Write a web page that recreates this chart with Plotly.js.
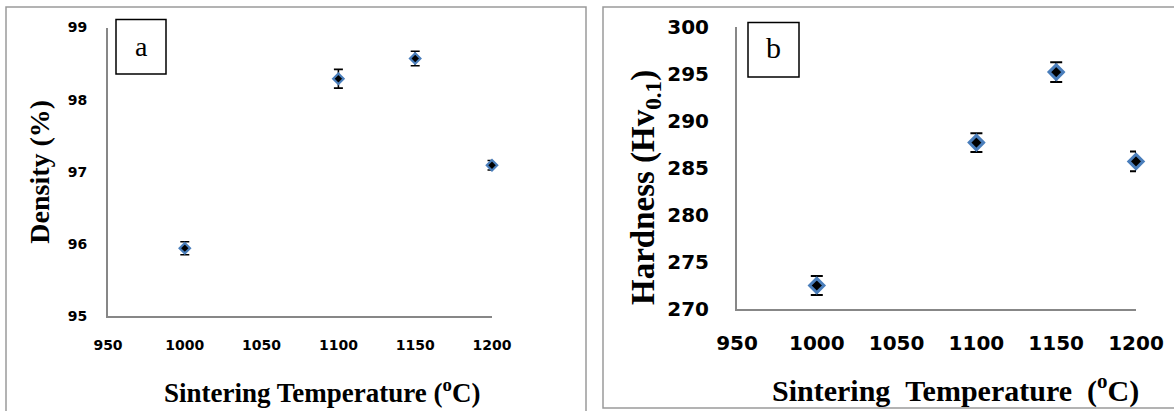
<!DOCTYPE html>
<html>
<head>
<meta charset="utf-8">
<script src="https://cdn.plot.ly/plotly-3.0.1.min.js"></script>
<style>html,body{margin:0;padding:0;background:#fff}#chart{width:1174px;height:411px}</style>
</head>
<body>
<div id="chart"></div>
<script>
// Data
const temperature = [1000, 1100, 1150, 1200];
const density = [95.94, 98.29, 98.57, 97.09];
const densityErr = [0.09, 0.13, 0.10, 0.065];
const hardness = [272.5, 287.7, 295.2, 285.7];
const hardnessErr = [1.0, 1.0, 1.05, 1.05];
const xTicks = [950, 1000, 1050, 1100, 1150, 1200];
const densityTicks = [95, 96, 97, 98, 99];
const hardnessTicks = [270, 275, 280, 285, 290, 295, 300];

const W = 1174, H = 411;
const px = v => v / W;
const py = v => 1 - v / H;

const axisLine = '#878787';
const markerBlue = '#4A7EBB';
const tickFontA = {family: 'DejaVu Sans', size: 14, color: '#000', weight: 700};
const tickFontB = {family: 'DejaVu Sans', size: 20, color: '#000', weight: 700};
const serif = 'Liberation Serif, Times New Roman, serif';

const traces = [
  {
    type: 'scatter', mode: 'markers', x: temperature, y: density,
    xaxis: 'x', yaxis: 'y', cliponaxis: false,
    marker: {symbol: 'diamond', size: 8, color: '#000', line: {color: markerBlue, width: 2.2}},
    error_y: {type: 'data', array: densityErr, visible: true, color: '#000', thickness: 1.6, width: 4.5},
    showlegend: false, hoverinfo: 'skip'
  },
  {
    type: 'scatter', mode: 'markers', x: temperature, y: hardness,
    xaxis: 'x2', yaxis: 'y2', cliponaxis: false,
    marker: {symbol: 'diamond', size: 11, color: '#000', line: {color: markerBlue, width: 3}},
    error_y: {type: 'data', array: hardnessErr, visible: true, color: '#000', thickness: 2, width: 6},
    showlegend: false, hoverinfo: 'skip'
  }
];

const commonAxis = {
  showgrid: false, zeroline: false, showline: true, linecolor: axisLine, linewidth: 2,
  ticks: '', mirror: false, fixedrange: true
};

const layout = {
  width: W, height: H,
  margin: {l: 0, r: 0, t: 0, b: 0},
  paper_bgcolor: '#fff', plot_bgcolor: '#fff',
  showlegend: false,
  xaxis: Object.assign({}, commonAxis, {
    domain: [px(108), px(492)], range: [950, 1200], tickvals: xTicks,
    tickfont: tickFontA, ticklabelstandoff: 15, anchor: 'y'
  }),
  yaxis: Object.assign({}, commonAxis, {
    domain: [py(316), py(27.5)], range: [95, 99], tickvals: densityTicks,
    tickfont: tickFontA, ticklabelstandoff: 16, anchor: 'x',
    title: {text: 'Density (%)', font: {family: serif, size: 28, color: '#000', weight: 700}, standoff: 10}
  }),
  xaxis2: Object.assign({}, commonAxis, {
    domain: [px(737), px(1136)], range: [950, 1200], tickvals: xTicks,
    tickfont: tickFontB, ticklabelstandoff: 15, anchor: 'y2'
  }),
  yaxis2: Object.assign({}, commonAxis, {
    domain: [py(309), py(27)], range: [270, 300], tickvals: hardnessTicks,
    tickfont: tickFontB, ticklabelstandoff: 22, anchor: 'x2'
  }),
  shapes: [
    {type: 'rect', xref: 'paper', yref: 'paper', x0: px(6), x1: px(586), y0: py(413), y1: py(7), line: {color: '#9a9a9a', width: 1.5}},
    {type: 'rect', xref: 'paper', yref: 'paper', x0: px(603), x1: px(1176), y0: py(408), y1: py(7), line: {color: '#9a9a9a', width: 1.5}},
    {type: 'rect', xref: 'paper', yref: 'paper', x0: px(116), x1: px(166), y0: py(74), y1: py(19.5), line: {color: '#000', width: 1.5}},
    {type: 'rect', xref: 'paper', yref: 'paper', x0: px(748), x1: px(799), y0: py(77), y1: py(22.5), line: {color: '#000', width: 1.5}}
  ],
  annotations: [
    {xref: 'paper', yref: 'paper', x: px(141), y: py(47), text: 'a', showarrow: false, xanchor: 'center', yanchor: 'middle', font: {family: serif, size: 28, color: '#000'}},
    {xref: 'paper', yref: 'paper', x: px(773.5), y: py(48), text: 'b', showarrow: false, xanchor: 'center', yanchor: 'middle', font: {family: serif, size: 30, color: '#000'}},
    {xref: 'paper', yref: 'paper', x: px(322), y: py(391), text: 'Sintering Temperature (<sup>o</sup>C)', showarrow: false, xanchor: 'center', yanchor: 'middle', font: {family: serif, size: 27, color: '#000', weight: 700}},
    {xref: 'paper', yref: 'paper', x: px(955), y: py(388), text: 'Sintering&nbsp;&nbsp;Temperature&nbsp;&nbsp;(<sup>o</sup>C)', showarrow: false, xanchor: 'center', yanchor: 'middle', font: {family: serif, size: 30, color: '#000', weight: 700}},
    {xref: 'paper', yref: 'paper', x: px(645), y: py(188), text: 'Hardness (Hv<sub>0.1</sub>)', textangle: -90, showarrow: false, xanchor: 'center', yanchor: 'middle', font: {family: serif, size: 33, color: '#000', weight: 700}}
  ]
};

Plotly.newPlot('chart', traces, layout, {staticPlot: true, displayModeBar: false});
</script>
</body>
</html>
